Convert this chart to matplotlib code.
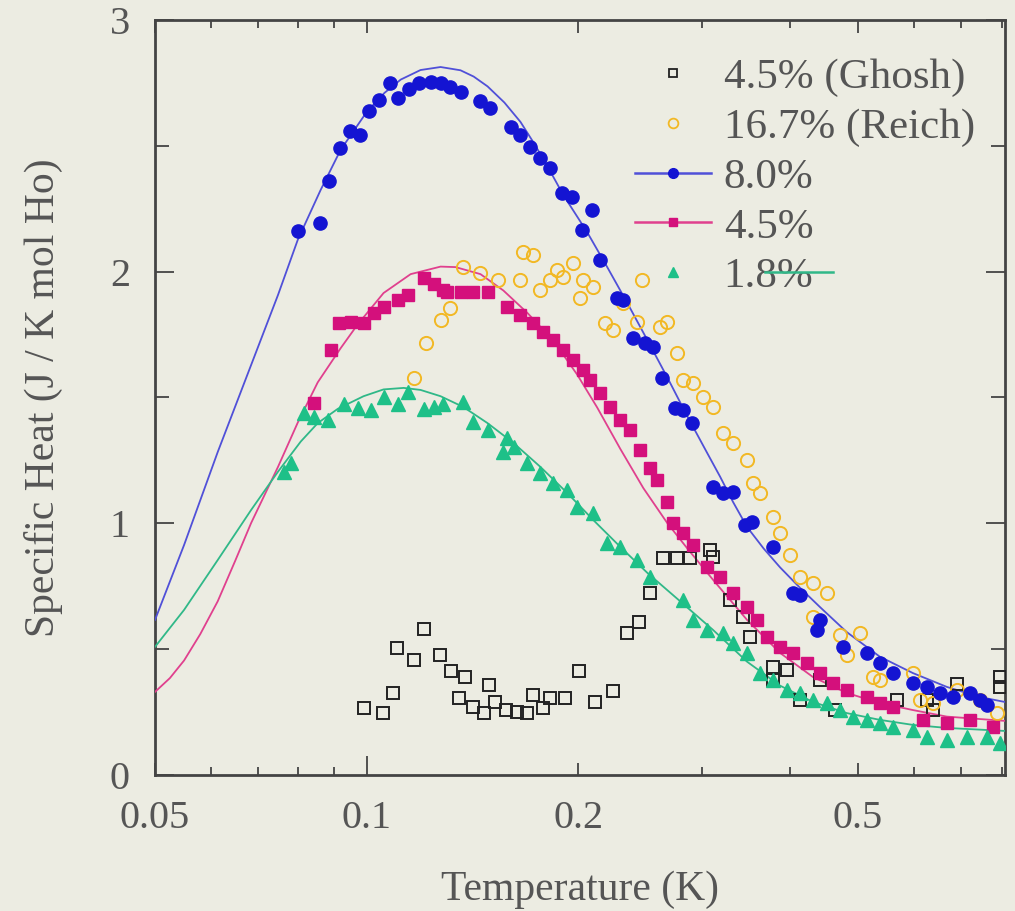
import matplotlib
matplotlib.use("Agg")
import matplotlib.pyplot as plt
from matplotlib.lines import Line2D
from matplotlib.ticker import FixedLocator, NullFormatter

# ---------------- data ----------------
# 8.0% (filled circles)
t_80 = [0.0798, 0.0858, 0.0883, 0.0915, 0.0946, 0.0977, 0.1007, 0.1040, 0.1078, 0.1110,
        0.1147, 0.1186, 0.1233, 0.1274, 0.1316, 0.1360, 0.1452, 0.1500, 0.1602, 0.1655,
        0.1710, 0.1767, 0.1825, 0.1898, 0.1961, 0.2027, 0.2094, 0.2149, 0.2273, 0.2317,
        0.2394, 0.2490, 0.2557, 0.2632, 0.2746, 0.2820, 0.2904, 0.3111, 0.3215, 0.3322,
        0.3455, 0.3533, 0.3784, 0.4042, 0.4135, 0.4371, 0.4415, 0.4760, 0.5148, 0.5370,
        0.5606, 0.5984, 0.6266, 0.6537, 0.6823, 0.7211, 0.7448, 0.7621]
c_80 = [2.161, 2.193, 2.360, 2.491, 2.559, 2.543, 2.638, 2.682, 2.749, 2.690,
        2.725, 2.749, 2.753, 2.749, 2.733, 2.714, 2.678, 2.650, 2.575, 2.543,
        2.495, 2.451, 2.412, 2.312, 2.296, 2.165, 2.245, 2.046, 1.895, 1.887,
        1.736, 1.716, 1.700, 1.577, 1.458, 1.450, 1.398, 1.144, 1.120, 1.124,
        0.993, 1.005, 0.906, 0.723, 0.715, 0.576, 0.616, 0.509, 0.485, 0.445,
        0.405, 0.366, 0.350, 0.326, 0.310, 0.326, 0.298, 0.278]

# 4.5% (filled squares)
t_45 = [0.0841, 0.0889, 0.0912, 0.0949, 0.0990, 0.1023, 0.1057, 0.1107, 0.1144, 0.1205,
        0.1245, 0.1286, 0.1303, 0.1360, 0.1419, 0.1486, 0.1586, 0.1655, 0.1727, 0.1784,
        0.1844, 0.1905, 0.1968, 0.2034, 0.2081, 0.2149, 0.2222, 0.2296, 0.2372, 0.2451,
        0.2532, 0.2590, 0.2677, 0.2729, 0.2820, 0.2914, 0.3050, 0.3183, 0.3322, 0.3477,
        0.3593, 0.3712, 0.3873, 0.4042, 0.4228, 0.4415, 0.4605, 0.4818, 0.5148, 0.5370,
        0.5606, 0.6183, 0.6687, 0.7211, 0.7773]
c_45 = [1.478, 1.689, 1.796, 1.800, 1.796, 1.836, 1.859, 1.887, 1.907, 1.975,
        1.951, 1.927, 1.919, 1.919, 1.919, 1.919, 1.859, 1.828, 1.796, 1.760,
        1.728, 1.689, 1.649, 1.609, 1.569, 1.518, 1.462, 1.410, 1.371, 1.291,
        1.220, 1.172, 1.085, 1.001, 0.961, 0.914, 0.826, 0.787, 0.723, 0.667,
        0.616, 0.548, 0.509, 0.485, 0.445, 0.405, 0.366, 0.338, 0.310, 0.286,
        0.270, 0.219, 0.207, 0.219, 0.191]

# 1.8% (filled triangles)
t_18 = [0.0762, 0.0780, 0.0814, 0.0841, 0.0880, 0.0928, 0.0971, 0.1013, 0.1057, 0.1107,
        0.1144, 0.1205, 0.1245, 0.1286, 0.1373, 0.1419, 0.1486, 0.1565, 0.1586, 0.1618,
        0.1693, 0.1767, 0.1844, 0.1930, 0.1994, 0.2101, 0.2200, 0.2296, 0.2426, 0.2532,
        0.2820, 0.2914, 0.3050, 0.3215, 0.3322, 0.3477, 0.3629, 0.3784, 0.3963, 0.4135,
        0.4315, 0.4518, 0.4712, 0.4917, 0.5148, 0.5370, 0.5606, 0.5984, 0.6266, 0.6687,
        0.7139, 0.7621, 0.7955]
c_18 = [1.204, 1.240, 1.438, 1.422, 1.410, 1.474, 1.458, 1.450, 1.502, 1.474,
        1.522, 1.454, 1.462, 1.474, 1.482, 1.402, 1.371, 1.283, 1.339, 1.303,
        1.240, 1.200, 1.160, 1.132, 1.065, 1.041, 0.922, 0.906, 0.854, 0.787,
        0.695, 0.616, 0.576, 0.564, 0.524, 0.485, 0.405, 0.377, 0.338, 0.326,
        0.298, 0.286, 0.258, 0.230, 0.219, 0.207, 0.191, 0.179, 0.151, 0.139,
        0.151, 0.151, 0.127]

# 16.7% (Reich) open circles
t_reich = [0.1166, 0.1213, 0.1274, 0.1316, 0.1373, 0.1452, 0.1540, 0.1655, 0.1671, 0.1727,
           0.1767, 0.1825, 0.1867, 0.1905, 0.1968, 0.2034, 0.2014, 0.2101, 0.2185, 0.2244,
           0.2317, 0.2426, 0.2467, 0.2617, 0.2677, 0.2766, 0.2820, 0.2914, 0.3011, 0.3111,
           0.3215, 0.3322, 0.3477, 0.3547, 0.3629, 0.3784, 0.3873, 0.4003, 0.4135, 0.4315,
           0.4518, 0.4315, 0.4712, 0.5031, 0.4818, 0.5251, 0.5370, 0.5984, 0.6120, 0.6386,
           0.6913, 0.7448, 0.7876]
c_reich = [1.577, 1.716, 1.808, 1.855, 2.018, 1.994, 1.967, 1.967, 2.078, 2.066,
           1.927, 1.967, 2.006, 1.979, 2.034, 1.967, 1.895, 1.939, 1.796, 1.768,
           1.875, 1.800, 1.967, 1.780, 1.800, 1.677, 1.569, 1.557, 1.502, 1.462,
           1.359, 1.319, 1.251, 1.160, 1.120, 1.025, 0.961, 0.874, 0.787, 0.763,
           0.723, 0.628, 0.556, 0.564, 0.477, 0.389, 0.377, 0.405, 0.298, 0.286,
           0.338, 0.298, 0.246]

# 4.5% (Ghosh) open squares
t_ghosh = [0.0990, 0.1054, 0.1092, 0.1103, 0.1166, 0.1205, 0.1270, 0.1320, 0.1382, 0.1355,
           0.1419, 0.1491, 0.1471, 0.1525, 0.1576, 0.1639, 0.1693, 0.1727, 0.1784, 0.1825,
           0.1917, 0.2007, 0.2115, 0.2244, 0.2349, 0.2443, 0.2532, 0.2642, 0.2766, 0.2886,
           0.3081, 0.3111, 0.3289, 0.3432, 0.3510, 0.3784, 0.3963, 0.3784, 0.4135, 0.4415,
           0.4634, 0.5679, 0.6266, 0.6386, 0.6913, 0.7955, 0.7955]
c_ghosh = [0.266, 0.246, 0.326, 0.505, 0.457, 0.580, 0.477, 0.413, 0.389, 0.306,
           0.270, 0.358, 0.246, 0.290, 0.258, 0.250, 0.246, 0.318, 0.266, 0.306,
           0.306, 0.413, 0.290, 0.334, 0.564, 0.608, 0.723, 0.862, 0.862, 0.862,
           0.894, 0.866, 0.695, 0.628, 0.548, 0.429, 0.417, 0.377, 0.298, 0.377,
           0.258, 0.298, 0.298, 0.258, 0.362, 0.389, 0.350]

# fit curves
tf_80 = [0.0500, 0.0550, 0.0614, 0.0685, 0.0748, 0.0798, 0.0860, 0.0918, 0.1000, 0.1060,
         0.1118, 0.1193, 0.1274, 0.1360, 0.1420, 0.1486, 0.1570, 0.1655, 0.1730, 0.1807,
         0.1904, 0.2059, 0.2199, 0.2349, 0.2508, 0.2677, 0.2859, 0.3050, 0.3183, 0.3320,
         0.3477, 0.3670, 0.3873, 0.4130, 0.4415, 0.4818, 0.5370, 0.5984, 0.6687, 0.7448,
         0.8090]
cf_80 = [0.616, 0.914, 1.283, 1.629, 1.907, 2.126, 2.324, 2.483, 2.634, 2.710,
         2.763, 2.801, 2.813, 2.800, 2.775, 2.736, 2.672, 2.595, 2.510, 2.420,
         2.305, 2.157, 2.018, 1.875, 1.728, 1.580, 1.425, 1.280, 1.185, 1.085,
         0.985, 0.900, 0.825, 0.745, 0.667, 0.568, 0.470, 0.405, 0.350, 0.310,
         0.290]

tf_45 = [0.0500, 0.0525, 0.0550, 0.0580, 0.0614, 0.0650, 0.0685, 0.0748, 0.0798, 0.0852,
         0.0918, 0.0971, 0.1057, 0.1155, 0.1274, 0.1338, 0.1452, 0.1565, 0.1693, 0.1844,
         0.1994, 0.2128, 0.2296, 0.2475, 0.2677, 0.2859, 0.3111, 0.3477, 0.3873, 0.4315,
         0.4818, 0.5370, 0.5984, 0.6687, 0.8090]
cf_45 = [0.330, 0.385, 0.455, 0.560, 0.690, 0.850, 1.001, 1.224, 1.400, 1.560,
         1.695, 1.790, 1.915, 1.990, 2.020, 2.018, 1.990, 1.925, 1.836, 1.725,
         1.590, 1.460, 1.295, 1.140, 1.001, 0.900, 0.775, 0.616, 0.485, 0.389,
         0.326, 0.286, 0.258, 0.232, 0.215]

tf_18 = [0.0500, 0.0550, 0.0614, 0.0685, 0.0748, 0.0806, 0.0852, 0.0910, 0.0990, 0.1057,
         0.1129, 0.1193, 0.1274, 0.1373, 0.1486, 0.1618, 0.1767, 0.1930, 0.2101, 0.2296,
         0.2508, 0.2793, 0.3111, 0.3477, 0.3873, 0.4315, 0.4818, 0.5370, 0.5984, 0.6687,
         0.8090]
cf_18 = [0.509, 0.656, 0.854, 1.053, 1.205, 1.325, 1.398, 1.455, 1.505, 1.532,
         1.538, 1.530, 1.505, 1.462, 1.398, 1.319, 1.224, 1.120, 1.013, 0.906,
         0.803, 0.690, 0.576, 0.450, 0.355, 0.290, 0.246, 0.219, 0.199, 0.187,
         0.175]

labels = ["4.5% (Ghosh)", "16.7% (Reich)", "8.0%", "4.5%", "1.8%"]
x_ticks = [0.05, 0.1, 0.2, 0.5]
x_tick_labels = ["0.05", "0.1", "0.2", "0.5"]
y_ticks = [0, 1, 2, 3]

# ---------------- style ----------------
BG = "#ecece2"
TXT = "#555555"
BLUE = "#1414d2"
PINK = "#d4107c"
GREEN = "#1ec088"
YELLOW = "#f2b824"
BLUE_L = "#5050d8"
PINK_L = "#e0408e"
GREEN_L = "#30b888"

plt.rcParams["font.family"] = ["Liberation Serif", "DejaVu Serif"]

fig = plt.figure(figsize=(10.15, 9.11), dpi=100, facecolor=BG)
ax = fig.add_axes([0.1527, 0.1493, 0.8374, 0.8288], facecolor=BG)
ax.set_xscale("log")

# fits
ax.plot(tf_80, cf_80, color=BLUE_L, lw=1.3, zorder=3)
ax.plot(tf_45, cf_45, color=PINK_L, lw=1.3, zorder=3)
ax.plot(tf_18, cf_18, color=GREEN_L, lw=1.3, zorder=3)

# data
ax.plot(t_ghosh, c_ghosh, ls="none", marker="s", ms=8.5, mfc="none", mec="#222222", mew=1.4, zorder=4)
ax.plot(t_reich, c_reich, ls="none", marker="o", ms=9.5, mfc="none", mec=YELLOW, mew=1.4, zorder=4)
ax.plot(t_80, c_80, ls="none", marker="o", ms=9.5, mfc=BLUE, mec=BLUE, zorder=5)
ax.plot(t_45, c_45, ls="none", marker="s", ms=8.5, mfc=PINK, mec=PINK, zorder=5)
ax.plot(t_18, c_18, ls="none", marker="^", ms=10, mfc=GREEN, mec=GREEN, zorder=5)

ax.set_xlim(0.05, 0.809)
ax.set_ylim(0, 3)

ax.xaxis.set_major_locator(FixedLocator(x_ticks))
ax.set_xticklabels(x_tick_labels)
ax.xaxis.set_minor_locator(FixedLocator([0.06, 0.07, 0.08, 0.09, 0.3, 0.4, 0.6, 0.7, 0.8]))
ax.xaxis.set_minor_formatter(NullFormatter())
ax.yaxis.set_major_locator(FixedLocator(y_ticks))
ax.yaxis.set_minor_locator(FixedLocator([0.5, 1.5, 2.5]))

ax.tick_params(which="both", direction="in", top=True, right=True, color="#444444",
               labelcolor=TXT, labelsize=29, width=1.3)
ax.tick_params(axis="y", which="major", length=14, pad=18)
ax.tick_params(axis="y", which="minor", length=10)
ax.tick_params(axis="x", which="major", length=9, pad=18)
ax.tick_params(axis="x", which="minor", length=6)
ax.xaxis.get_major_ticks()[1].tick1line.set_markersize(14)

for s in ax.spines.values():
    s.set_color("#444444")
    s.set_linewidth(2)

ax.set_xlabel("Temperature (K)", fontsize=30, color=TXT, labelpad=24)
ax.set_ylabel("Specific Heat (J / K mol Ho)", fontsize=30, color=TXT, labelpad=34)

handles = [
    Line2D([], [], ls="none", marker="s", ms=6, mfc="none", mec="#222222", mew=1.3),
    Line2D([], [], ls="none", marker="o", ms=7, mfc="none", mec=YELLOW, mew=1.3),
    Line2D([], [], color=BLUE_L, lw=1.8, marker="o", ms=7, mfc=BLUE, mec=BLUE),
    Line2D([], [], color=PINK_L, lw=1.8, marker="s", ms=6, mfc=PINK, mec=PINK),
    Line2D([], [], ls="none", marker="^", ms=7, mfc=GREEN, mec=GREEN),
]
leg = ax.legend(handles, labels, loc="upper right", bbox_to_anchor=(1.0, 0.99),
                frameon=False, fontsize=31, handlelength=1.75, handletextpad=0.3,
                labelspacing=0.25, borderaxespad=0.3, labelcolor=TXT)

# stray green stroke across the last legend label, as in the original
ax.plot([0.718, 0.798], [0.666, 0.666], transform=ax.transAxes, color=GREEN_L, lw=1.8, zorder=6)

fig.savefig("out.png", dpi=100, facecolor=BG)
